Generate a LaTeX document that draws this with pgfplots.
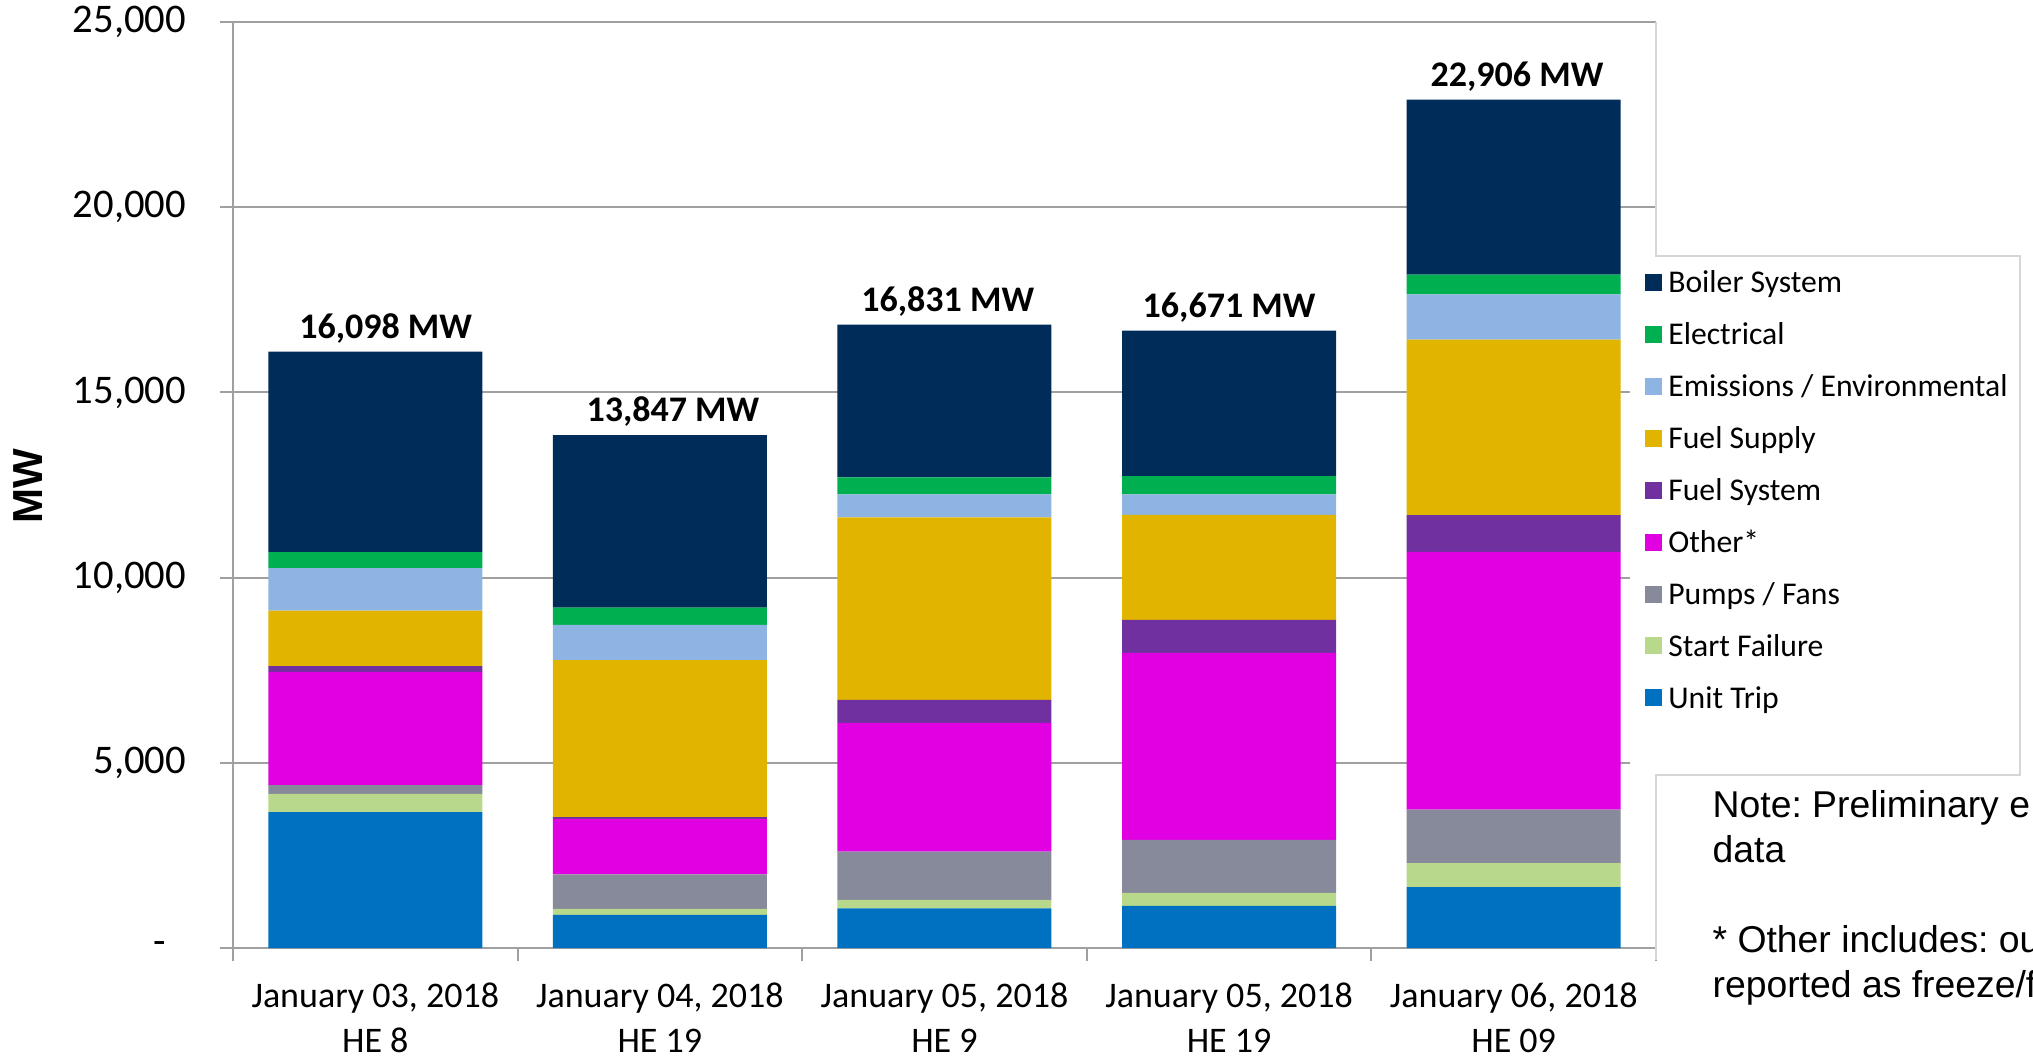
\documentclass[border=0pt]{standalone}
\usepackage{fontspec}
\setmainfont{Carlito}
\newfontfamily\arialfont{Liberation Sans}
\usepackage{pgfplots}
\usepackage{pgfplotstable}
\pgfplotsset{compat=1.18}
\definecolor{cBO}{HTML}{002C5A}
\definecolor{cEL}{HTML}{00B050}
\definecolor{cEM}{HTML}{8DB4E2}
\definecolor{cFSu}{HTML}{E1B400}
\definecolor{cFSy}{HTML}{7030A0}
\definecolor{cOT}{HTML}{E100E1}
\definecolor{cPF}{HTML}{868A9B}
\definecolor{cSF}{HTML}{B8D98B}
\definecolor{cUT}{HTML}{0070C0}
\definecolor{gridgray}{HTML}{A0A0A0}
\definecolor{boxgray}{HTML}{D6D6D6}
\pgfplotstableread{
x UT SF PF OT FSy FSu EM EL BO
0 3669 489 238 3056 159 1500 1147 432 5408
1 897 159 932 1500 45 4237 954 466 4657
2 1067 235 1302 3472 622 4926 622 458 4127
3 1138 352 1431 5044 891 2839 549 493 3934
4 1647 643 1443 6965 988 4737 1224 533 4726
}\datatable
\pgfplotsset{
  sq/.style={fill=#1, draw=none,
    legend image code/.code={\fill[fill=#1] (0pt,-2.01pt) rectangle (5.1pt,3.09pt);}},
}
\begin{document}
\frenchspacing
\begin{tikzpicture}[x=0.3pt,y=0.3pt]
\useasboundingbox (0,0) rectangle (2033,1058);
\begin{axis}[
  at={(69.9pt,33pt)}, anchor=south west,
  scale only axis, width=426.9pt, height=277.8pt,
  ybar stacked, bar width=0.752,
  xmin=-0.5, xmax=4.5, ymin=0, ymax=25000,
  axis x line*=bottom, axis y line*=left,
  axis line style={draw=gridgray, line width=0.6pt},
  ymajorgrids, grid style={draw=gridgray, line width=0.6pt},
  tick align=outside, major tick length=4pt,
  tick style={draw=gridgray, line width=0.6pt},
  xtick={-0.5,0.5,1.5,2.5,3.5,4.5}, xticklabels={},
  extra x ticks={0,1,2,3,4},
  extra x tick labels={{January 03, 2018\\HE 8},{January 04, 2018\\HE 19},{January 05, 2018\\HE 9},{January 05, 2018\\HE 19},{January 06, 2018\\HE 09}},
  extra x tick style={major tick length=0pt,
    xticklabel style={align=center, anchor=north, inner sep=0pt, yshift=-10.2pt,
      font=\fontsize{10.8}{13.5}\selectfont}},
  ytick={0,5000,10000,15000,20000,25000},
  yticklabels={{-\kern6pt},{5,000},{10,000},{15,000},{20,000},{25,000}},
  yticklabel style={font=\fontsize{12.2}{14}\selectfont, anchor=east, inner sep=0pt, xshift=-9.9pt},
  /pgf/number format/assume math mode=true,
  ylabel={MW},
  every axis y label/.style={at={(axis description cs:-0.1437,0.4989)}, rotate=90, anchor=center,
    font=\arialfont\bfseries\fontsize{12.6}{14}\selectfont},
  clip=false,
  reverse legend,
  legend cell align=left,
  legend style={at={(axis description cs:0.99157,0.73348)}, anchor=north west,
    draw=none, fill=none, inner sep=0pt, row sep=6.57pt, column sep=2pt,
    font=\fontsize{9.5}{11}\selectfont,
    nodes={inner sep=0pt, text height=7pt, text depth=2pt}},
]
\fill[white] (axis description cs:0.98173,0.74730) rectangle (axis description cs:1.25580,0.18683);
\addplot[sq=cUT] table[x=x,y=UT]{\datatable}; \addlegendentry{Unit Trip}
\addplot[sq=cSF] table[x=x,y=SF]{\datatable}; \addlegendentry{Start Failure}
\addplot[sq=cPF] table[x=x,y=PF]{\datatable}; \addlegendentry{Pumps / Fans}
\addplot[sq=cOT] table[x=x,y=OT]{\datatable}; \addlegendentry{Other*}
\addplot[sq=cFSy] table[x=x,y=FSy]{\datatable}; \addlegendentry{Fuel System}
\addplot[sq=cFSu] table[x=x,y=FSu]{\datatable}; \addlegendentry{Fuel Supply}
\addplot[sq=cEM] table[x=x,y=EM]{\datatable}; \addlegendentry{Emissions / Environmental}
\addplot[sq=cEL] table[x=x,y=EL]{\datatable}; \addlegendentry{Electrical}
\addplot[sq=cBO] table[x=x,y=BO]{\datatable}; \addlegendentry{Boiler System}
\addplot[draw=none, fill=none, forget plot, point meta=explicit symbolic,
  nodes near coords,
  every node near coord/.style={anchor=south, yshift=2.3pt, inner sep=0pt, text=black,
    font=\bfseries\fontsize{10.8}{12}\selectfont}]
  coordinates {(0,0.001)[\kern6.2pt 16,098 MW] (1,0.001)[\kern7.8pt 13,847 MW] (2,0.001)[\kern2pt 16,831 MW] (3,0.001)[16,671 MW] (4,0.001)[\kern2pt 22,906 MW]};
\end{axis}
\draw[boxgray, line width=0.45pt] (1656,1036) -- (1656,802) -- (2020,802) -- (2020,283) -- (1656,283) -- (1656,98);
\begin{scope}
\clip (0,0) rectangle (2033,1058);
\begin{scope}[every node/.style={anchor=base west, inner sep=0pt, font=\arialfont\fontsize{11.2}{13}\selectfont}]
\node at (1712,241) {Note: Preliminary eDART};
\node at (1712,196) {data};
\node at (1712,106) {* Other includes: outages};
\node at (1712,61) {reported as freeze/frozen};
\end{scope}
\end{scope}
\end{tikzpicture}
\end{document}
